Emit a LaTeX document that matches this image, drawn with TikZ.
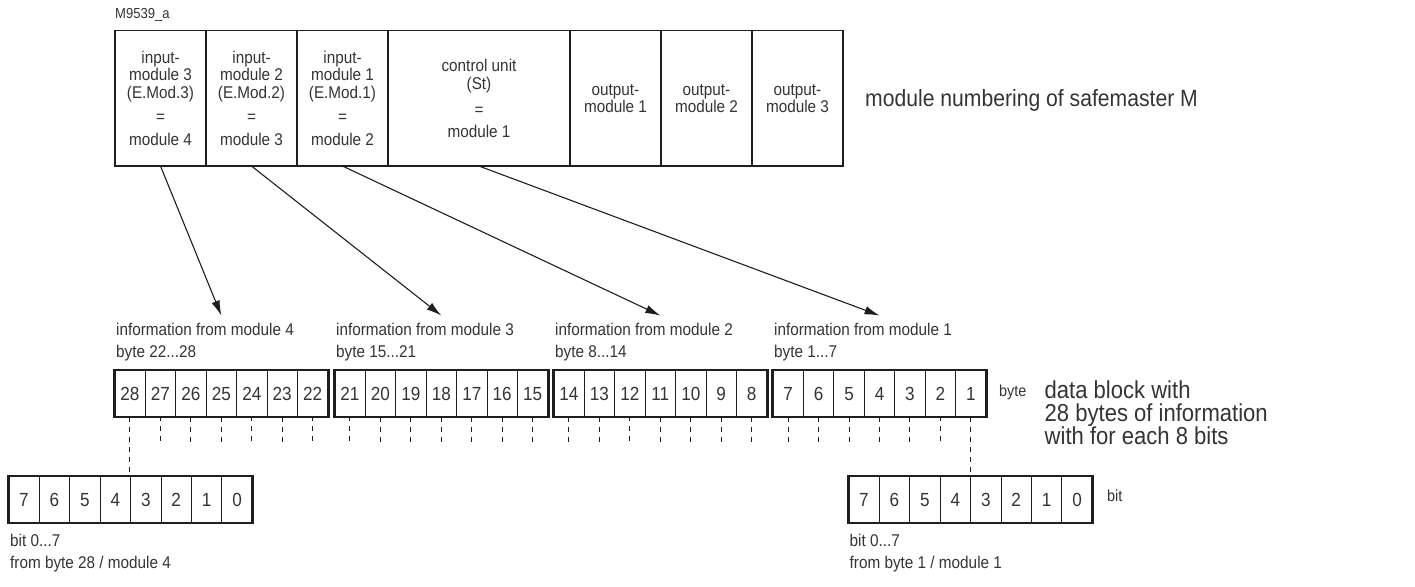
\documentclass[tikz,border=0pt]{standalone}
\usepackage{fontspec}
\setmainfont[FakeStretch=0.9]{Liberation Sans}
\usepackage{tikz}
\usetikzlibrary{matrix, positioning, calc, arrows.meta}
\definecolor{inkgray}{RGB}{52,52,52}
\definecolor{linegray}{RGB}{30,30,30}
\tikzset{
	modcell/.style={
		draw=linegray,
		line width=1.2pt,
		minimum width=91pt,
		minimum height=135.3pt,
		inner sep=0pt,
		outer sep=0pt,
		align=center,
		text=inkgray,
		font=\fontsize{17}{17.5}\selectfont
	},
	cell/.style={
		draw=linegray,
		line width=0.9pt,
		minimum width=30.45pt,
		minimum height=46pt,
		inner sep=0pt,
		outer sep=0pt,
		text=inkgray,
		font=\fontsize{19}{19}\selectfont
	},
	bytes/.style={
		matrix of nodes,
		nodes={cell},
		draw=linegray,
		line width=2.8pt,
		inner sep=0pt,
		outer sep=0pt,
		column sep=-0.9pt %cells touch, borders shared
	}
}

\begin{document}
\begin{tikzpicture}[x=1pt,y=-1pt]
		\tikzset{lbl/.style={inner sep=0pt,align=left,text=inkgray,font=\fontsize{17}{22}\selectfont}}
		\tikzset{feed/.style={-{Latex[length=15pt,width=8.5pt]}, line width=1.1pt, draw=linegray}}
		\tikzset{tick/.style={dash pattern=on 5pt off 5pt, line width=1pt, draw=linegray}}
		
		\useasboundingbox (0,0) rectangle (1415,586);
		
		\node(drawno) at (115,15) [lbl,anchor=west,font=\fontsize{14.5}{16}\selectfont] {M9539\_a};
		
		\node(inmod3) at (160.5,98.4) [modcell] {input-\\module 3\\(E.Mod.3)\\[7pt]=\\[5pt]module 4};
		\node(inmod2) at (251.5,98.4) [modcell] {input-\\module 2\\(E.Mod.2)\\[7pt]=\\[5pt]module 3};
		\node(inmod1) at (342.5,98.4) [modcell] {input-\\module 1\\(E.Mod.1)\\[7pt]=\\[5pt]module 2};
		\node(ctrl) at (479,98.4) [modcell,minimum width=182pt] {control unit\\(St)\\[9pt]=\\[4pt]module 1};
		\node(outmod1) at (615.5,98.4) [modcell] {output-\\module 1};
		\node(outmod2) at (706.5,98.4) [modcell] {output-\\module 2};
		\node(outmod3) at (797.5,98.4) [modcell] {output-\\module 3};
		
		\node(numbering) at (865,100) [lbl,anchor=west,font=\fontsize{23.5}{23}\selectfont] {module numbering of safemaster M};
		
		\matrix(blk4) at (114.3,370) [bytes,anchor=north west] {28 & 27 & 26 & 25 & 24 & 23 & 22\\};
		\matrix(blk3) at (334.3,370) [bytes,anchor=north west] {21 & 20 & 19 & 18 & 17 & 16 & 15\\};
		\matrix(blk2) at (553.3,370) [bytes,anchor=north west] {14 & 13 & 12 & 11 & 10 & 9 & 8\\};
		\matrix(blk1) at (772.5,370) [bytes,anchor=north west] {7 & 6 & 5 & 4 & 3 & 2 & 1\\};
		
		\node(info4) at (116,322.5) [lbl,anchor=north west] {information from module 4\\byte 22...28};
		\node(info3) at (336,322.5) [lbl,anchor=north west] {information from module 3\\byte 15...21};
		\node(info2) at (555,322.5) [lbl,anchor=north west] {information from module 2\\byte 8...14};
		\node(info1) at (774,322.5) [lbl,anchor=north west] {information from module 1\\byte 1...7};
		
		\node(bytelbl) at (999,392) [lbl,anchor=west,font=\fontsize{16}{16}\selectfont] {byte};
		\node(datablock) at (1044.5,413) [lbl,anchor=west,font=\fontsize{24.5}{23}\selectfont] {data block with\\28 bytes of information\\with for each 8 bits};
		
		\matrix(bitsA) at (8.3,476) [bytes,anchor=north west] {7 & 6 & 5 & 4 & 3 & 2 & 1 & 0\\};
		\matrix(bitsB) at (848.3,476) [bytes,anchor=north west] {7 & 6 & 5 & 4 & 3 & 2 & 1 & 0\\};
		
		\node(bitlbl) at (1107,496) [lbl,anchor=west,font=\fontsize{16}{16}\selectfont] {bit};
		\node(bitinfoA) at (10,533.5) [lbl,anchor=north west] {bit 0...7\\from byte 28 / module 4};
		\node(bitinfoB) at (849.5,533.5) [lbl,anchor=north west] {bit 0...7\\from byte 1 / module 1};
		
		\coordinate(tip4) at ($(blk4-1-4.north)+(0,-55)$);
		\coordinate(tip3) at ($(blk3-1-4.north)+(0,-55)$);
		\coordinate(tip2) at ($(blk2-1-4.north)+(0,-55)$);
		\coordinate(tip1) at ($(blk1-1-4.north)+(0,-55)$);
		
		\draw[feed] (inmod3.south) -- (tip4);
		\draw[feed] (inmod2.south) -- (tip3);
		\draw[feed] (inmod1.south) -- (tip2);
		\draw[feed] (ctrl.south) -- (tip1);
		
		% dashed ticks below each byte
		\foreach \b in {blk4,blk3,blk2,blk1}
			\foreach \c in {1,...,7}
				\draw[tick] (\b-1-\c.south) -- ++(0,25);
		
		\draw[tick] (blk4-1-1.south) -- (blk4-1-1.south |- bitsA.north);
		\draw[tick] (blk1-1-7.south) -- (blk1-1-7.south |- bitsB.north);
\end{tikzpicture}
\end{document}
